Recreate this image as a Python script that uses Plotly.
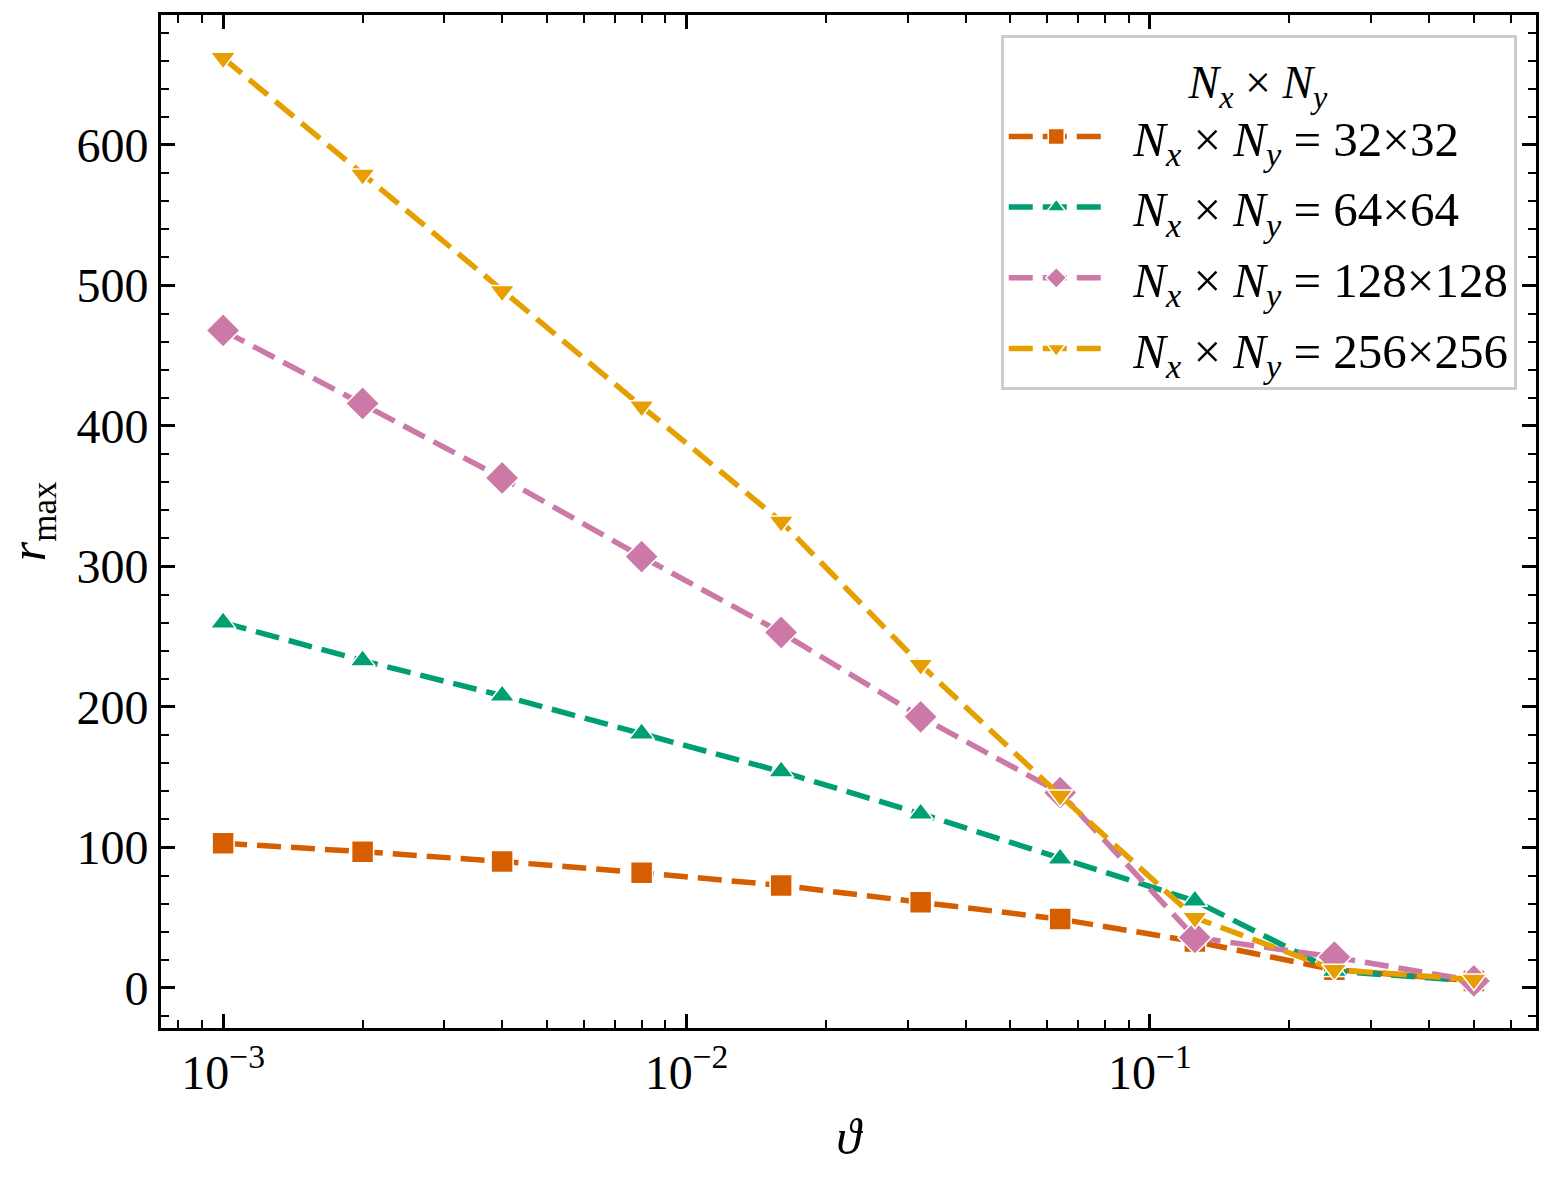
import plotly.graph_objects as go

theta = [0.001, 0.002, 0.004, 0.008, 0.016, 0.032, 0.064, 0.125, 0.25, 0.5]
r_32 = [103, 97, 90, 82, 73, 61, 49, 33, 13, 5]
r_64 = [260, 233, 208, 181, 154, 124, 92, 62, 12, 5]
r_128 = [468, 416, 363, 307, 253, 193, 139, 36, 22, 5]
r_256 = [662, 579, 496, 414, 332, 230, 137, 50, 13, 6]
labels = ["32×32", "64×64", "128×128", "256×256"]

colors = ["#D55E00", "#009E73", "#CC79A7", "#E69F00"]
symbols = ["square", "triangle-up", "diamond", "triangle-down"]
msizes = [22, 22, 26, 22]
series = [r_32, r_64, r_128, r_256]

FONT = "Liberation Serif, Times New Roman, Tinos, Times, serif"
fig = go.Figure()
for i, (lab, ys, c, s, ms) in enumerate(zip(labels, series, colors, symbols, msizes)):
    fig.add_trace(go.Scatter(
        x=theta, y=ys, mode="lines+markers",
        name="  <i>N<sub>x</sub></i> × <i>N<sub>y</sub></i> = " + lab,
        legendgroup="g%d" % i,
        line=dict(color=c, width=5.5, dash="24px,10px"),
        marker=dict(symbol=s, size=ms, color=c, line=dict(color="white", width=1.5)),
    ))

minor_x = [m * 10.0 ** e for e in (-4, -3, -2, -1) for m in range(2, 10)]
minor_x = [v for v in minor_x if 10 ** -3.134 < v < 10 ** -0.167]

fig.update_layout(
    width=1552, height=1182,
    margin=dict(l=161, r=16, t=15, b=154),
    paper_bgcolor="white", plot_bgcolor="white",
    font=dict(family=FONT, size=46, color="black"),
    showlegend=True,
    legend=dict(
        x=0.986, y=0.980, xanchor="right", yanchor="top",
        bordercolor="#cccccc", borderwidth=3, bgcolor="rgba(255,255,255,0.9)",
        font=dict(family=FONT, size=49),
        title=dict(text="<i>N<sub>x</sub></i> × <i>N<sub>y</sub></i>", side="top center",
                   font=dict(family=FONT, size=46)),
        tracegroupgap=4, itemwidth=95,
    ),
    xaxis=dict(
        type="log", range=[-3.134, -0.167], automargin=False,
        tickvals=[0.001, 0.01, 0.1],
        ticktext=["10<sup>−3</sup>", "10<sup>−2</sup>", "10<sup>−1</sup>"],
        ticks="inside", ticklen=14, tickwidth=2.5, tickcolor="black",
        showline=True, linecolor="black", linewidth=3, mirror="ticks",
        showgrid=False, zeroline=False,
        minor=dict(tickvals=minor_x, ticks="inside", ticklen=8, tickwidth=2, tickcolor="black", showgrid=False),
        title=dict(text="<i>ϑ</i>", standoff=22, font=dict(family=FONT, size=50)),
        tickfont=dict(family=FONT, size=48),
    ),
    yaxis=dict(
        range=[-28.5, 692.5], automargin=False,
        tickvals=[0, 100, 200, 300, 400, 500, 600],
        ticks="inside", ticklen=14, tickwidth=2.5, tickcolor="black",
        showline=True, linecolor="black", linewidth=3, mirror="ticks",
        showgrid=False, zeroline=False,
        minor=dict(dtick=20, tick0=0, ticks="inside", ticklen=8, tickwidth=2, tickcolor="black", showgrid=False),
        tickfont=dict(family=FONT, size=48),
    ),
    annotations=[dict(
        text="<i>r</i><sub>max</sub>", xref="paper", yref="paper",
        x=-0.094, y=0.5, xanchor="center", yanchor="middle", textangle=-90,
        showarrow=False, font=dict(family=FONT, size=50),
    )],
)

fig.write_html("out.html")
